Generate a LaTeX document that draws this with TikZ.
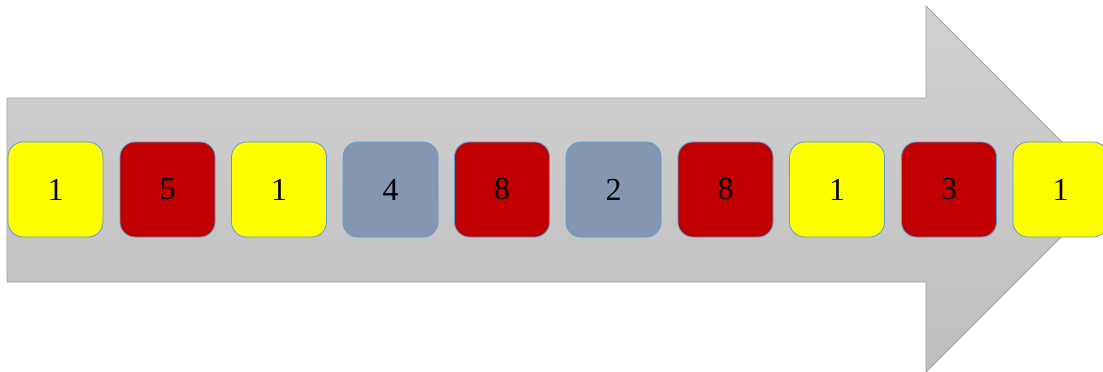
\documentclass[tikz,border=0pt]{standalone}
\usepackage{fontspec}
\setmainfont{Liberation Serif}
\definecolor{boxY}{HTML}{FFFF00}
\definecolor{boxR}{HTML}{C00000}
\definecolor{boxG}{HTML}{8497B0}
\definecolor{edgeB}{HTML}{5B9BD5}
\definecolor{arrT}{HTML}{D2D2D2}
\definecolor{arrB}{HTML}{BEBEBE}
\definecolor{arrE}{HTML}{A0A0A0}
\tikzset{
  cell/.style={draw=edgeB, line width=0.8pt, rounded corners=15pt, minimum width=95pt, minimum height=95pt, inner sep=0pt, font=\fontsize{32}{36}\selectfont},
  cy/.style={cell, fill=boxY},
  cr/.style={cell, fill=boxR},
  cg/.style={cell, fill=boxG},
}
\begin{document}
\begin{tikzpicture}[x=1pt,y=-1pt]
\useasboundingbox (0,0) rectangle (1103,372);
\clip (0,0) rectangle (1103,372);
\path[draw=arrE, line width=0.8pt, top color=arrT, bottom color=arrB]
  (7,98) -- (926,98) -- (926,6) -- (1109,189) -- (926,372) -- (926,282) -- (7,282) -- cycle;
\node[cy] (n1) at (55.5,189.5) {1};
\node[cr] (n2) at (167.5,189.5) {5};
\node[cy] (n3) at (279,189.5) {1};
\node[cg] (n4) at (390.5,189.5) {4};
\node[cr] (n5) at (502,189.5) {8};
\node[cg] (n6) at (613.5,189.5) {2};
\node[cr] (n7) at (725.5,189.5) {8};
\node[cy] (n8) at (837,189.5) {1};
\node[cr] (n9) at (949,189.5) {3};
\node[cy] (n10) at (1060.5,189.5) {1};
\end{tikzpicture}
\end{document}
